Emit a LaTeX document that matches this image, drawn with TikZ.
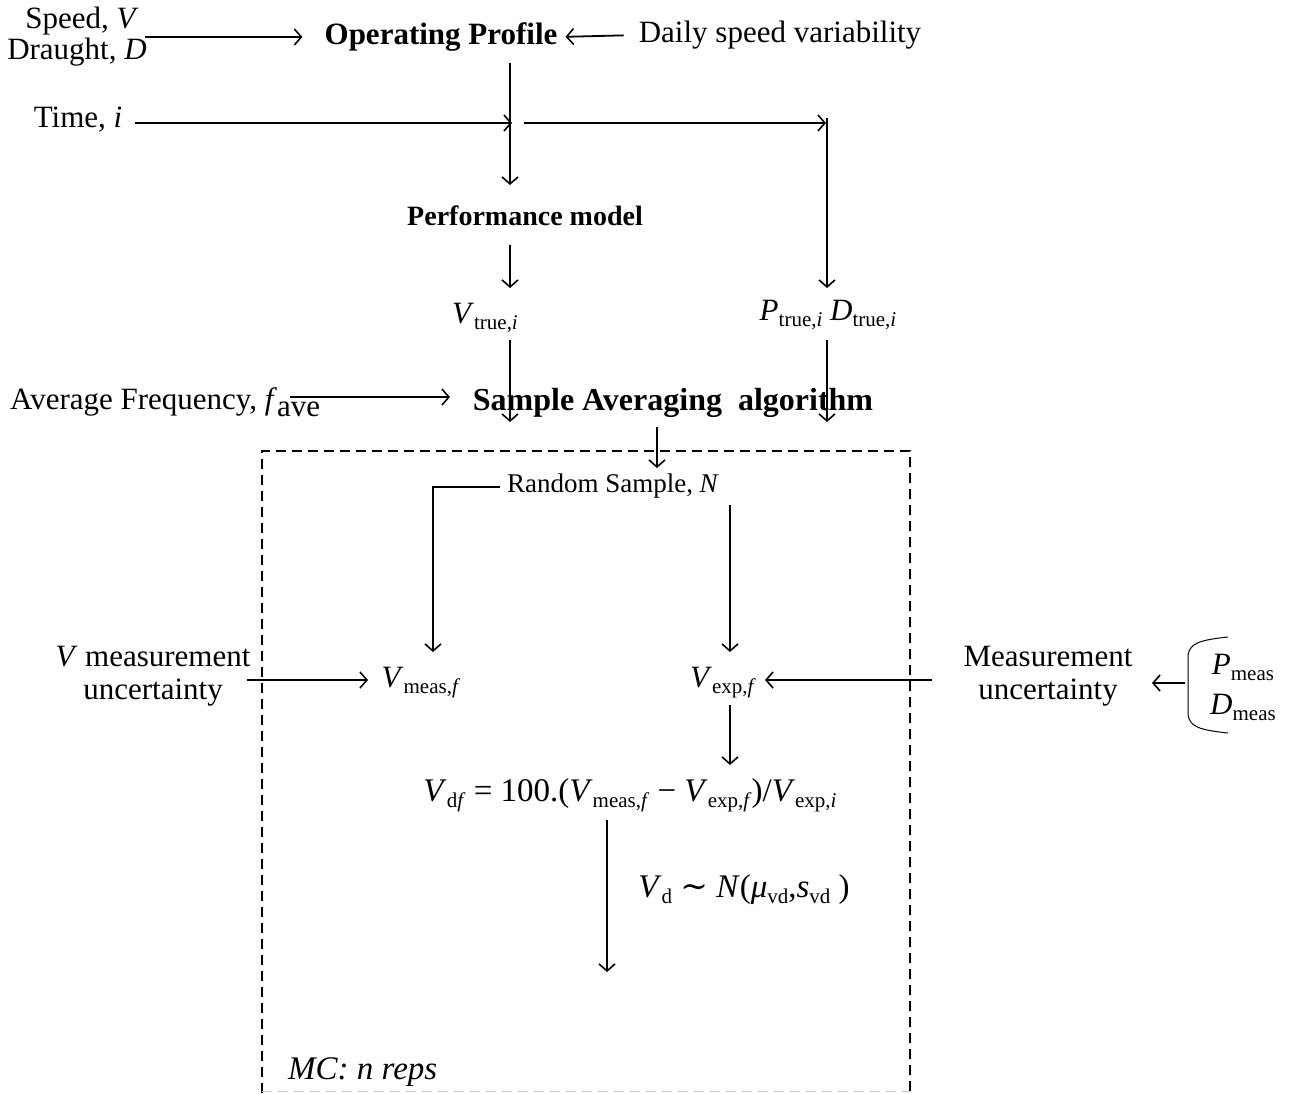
\documentclass[tikz,border=0pt]{standalone}
\usepackage{fontspec}
\setmainfont{Liberation Serif}
\newfontfamily\symfont{DejaVu Serif}
\usetikzlibrary{arrows.meta}
\newcommand{\sbs}[1]{\raisebox{-6pt}{\fontsize{21}{22}\selectfont #1}}
\newcommand{\vv}[1]{\textit{#1}}
\begin{document}
\begin{tikzpicture}[x=1pt,y=-1pt,
  arr/.style={line width=1.8pt,-{Straight Barb[length=7pt,width=16pt,line width=1.6pt]}},
  lbl/.style={inner sep=0pt,font=\fontsize{31}{33}\selectfont,align=center},
  bld/.style={inner sep=0pt,font=\fontsize{31}{33}\selectfont\bfseries},
  sml/.style={inner sep=0pt,font=\fontsize{27}{30}\selectfont},
  mcs/.style={inner sep=0pt,font=\fontsize{33}{35}\selectfont\itshape}]
\useasboundingbox (0,0) rectangle (1295,1093);
% nodes
\node[lbl] (speed) at (82,21) {Speed, \vv{V}};
\node[lbl] (draught) at (77,52) {Draught, \vv{D}};
\node[bld] (op) at (441,37) {Operating Profile};
\node[lbl] (daily) at (780,35) {Daily speed variability};
\node[lbl] (time) at (78,120) {Time, \vv{i}};
\node[bld,font=\fontsize{28}{30}\selectfont\bfseries] (perf) at (525,216) {Performance model};
\node[lbl] (vtrue) at (485,318) {\vv{V}\sbs{true,\vv{i}}};
\node[lbl] (pd) at (828,315) {\vv{P}\sbs{true,\vv{i}} \vv{D}\sbs{true,\vv{i}}};
\node[lbl,anchor=west] (avg) at (10,402) {Average Frequency, \vv{f}\raisebox{-7pt}{ave}};
\node[bld,font=\fontsize{32}{34}\selectfont\bfseries] (saa) at (673,403) {Sample Averaging\ \ algorithm};
\node[sml] (rs) at (613,486) {Random Sample, \vv{N}};
\node[lbl] (vmu) at (153,676) {\vv{V} measurement\\uncertainty};
\node[lbl] (vmeas) at (421,683) {\vv{V}\sbs{meas,\vv{f}}};
\node[lbl] (vexp) at (723,683) {\vv{V}\sbs{exp,\vv{f}}};
\node[lbl] (mu) at (1048,676) {Measurement\\uncertainty};
\node[lbl] (pmeas) at (1243,667) {\vv{P}\sbs{meas}};
\node[lbl] (dmeas) at (1243,707) {\vv{D}\sbs{meas}};
\node[lbl,font=\fontsize{33}{35}\selectfont] (formula) at (630,795) {\vv{V}\sbs{d\vv{f}} = 100.(\vv{V}\sbs{meas,\vv{f}} − \vv{V}\sbs{exp,\vv{f}})/\vv{V}\sbs{exp,\vv{i}}};
\node[lbl,font=\fontsize{33}{35}\selectfont] (vd) at (744,890) {\vv{V}\sbs{d} {\symfont ∼} \vv{N}(\vv{μ}\sbs{vd},\vv{s}\sbs{vd} )};
\node[mcs,anchor=west] (mcn) at (288,1072) {MC: n reps};
% dashed box
\draw[line width=2.5pt,dash pattern=on 10pt off 6pt] (262,1093) -- (262,451) -- (910,451) -- (910,1093);
\draw[line width=1pt,gray!40,dash pattern=on 10pt off 6pt] (262,1091) -- (910,1091);
% coordinates
\coordinate (sdin) at (145,37);
\coordinate (opd) at (510,63);
\coordinate (j1) at (512,123);
\coordinate (j2) at (524,123);
\coordinate (j3) at (826,123);
\coordinate (j3t) at (827,118);
\coordinate (pfd) at (510,245);
\coordinate (vtd) at (510,340);
\coordinate (tipL) at (510,422);
\coordinate (pdd) at (827,340);
\coordinate (tipR) at (827,422);
\coordinate (avR) at (290,397);
\coordinate (avT) at (450,397);
\coordinate (sad) at (657,427);
\coordinate (rsL) at (500,487);
\coordinate (rsR) at (730,505);
\coordinate (vmuR) at (247,680);
\coordinate (muL) at (932,680);
\coordinate (brL) at (1185,683);
\coordinate (vexd) at (730,705);
\coordinate (fmd) at (607,820);
\coordinate (fend) at (607,972);
% connectors
\draw[arr,shorten >=22pt] (sdin) -- (sdin -| op.west);
\draw[arr,shorten <=15pt,shorten >=8pt] (daily.west) -- (op.east);
\draw[arr] (opd) -- (510,185);
\draw[arr] ([xshift=13pt]time.east |- j1) -- (j1);
\draw[arr] (j2) -- (j3);
\draw[arr] (j3t) -- (827,288);
\draw[arr] (pfd) -- (510,288);
\draw[arr] (vtd) -- (tipL);
\draw[arr] (pdd) -- (tipR);
\draw[arr] (avR) -- (avT);
\draw[arr] (sad) -- (657,468);
\draw[arr] (rsL) -| (433,652);
\draw[arr] (rsR) -- (730,652);
\draw[arr] (vmuR) -- (368,680);
\draw[arr] (muL) -- (765,680);
\draw[arr] (brL) -- (1152,683);
\draw[arr] (vexd) -- (730,765);
\draw[arr] (fmd) -- (fend);
% brace
\draw[line width=1pt] (1228,637) .. controls (1200,640) and (1190,643) .. (1188,655) -- (1188,715) .. controls (1190,727) and (1200,730) .. (1228,733);
\end{tikzpicture}
\end{document}
